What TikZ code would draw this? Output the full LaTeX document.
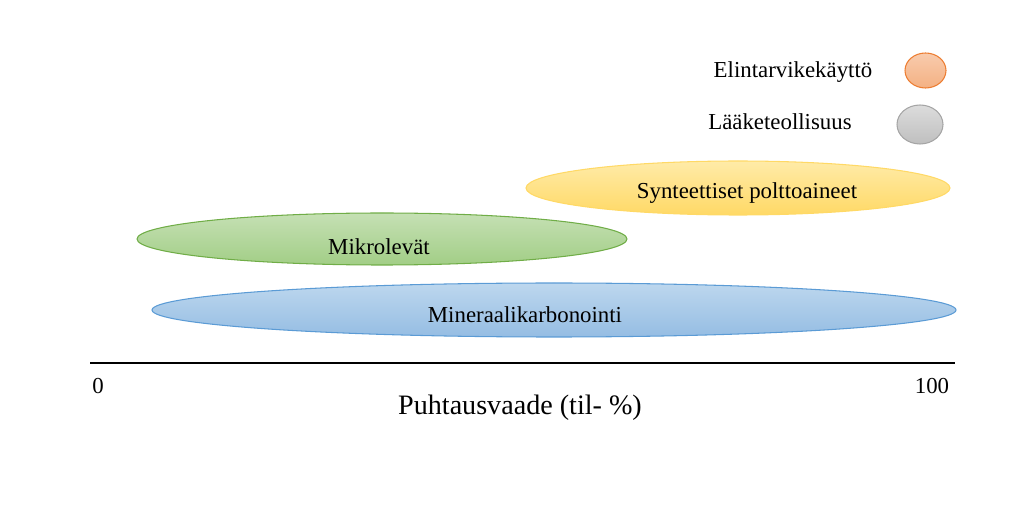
\documentclass[tikz,border=0pt]{standalone}
\usepackage{fontspec}
\setmainfont{Liberation Serif}
\usetikzlibrary{shapes.geometric}

\definecolor{orangetop}{HTML}{F8CBAD}
\definecolor{orangebot}{HTML}{F4B183}
\definecolor{orangeline}{HTML}{ED7D31}
\definecolor{graytop}{HTML}{DCDCDC}
\definecolor{graybot}{HTML}{BFBFBF}
\definecolor{grayline}{HTML}{A5A5A5}
\definecolor{yellowtop}{HTML}{FFEBA8}
\definecolor{yellowbot}{HTML}{FFD966}
\definecolor{greentop}{HTML}{C5E0B4}
\definecolor{greenbot}{HTML}{A2CE86}
\definecolor{greenline}{HTML}{70AD47}
\definecolor{bluetop}{HTML}{BDD7EE}
\definecolor{bluebot}{HTML}{95BDE3}
\definecolor{blueline}{HTML}{5B9BD5}

\begin{document}
\begin{tikzpicture}[
    blob/.style={ellipse, inner sep=0pt, line width=0.6pt},
    lbl/.style={font=\fontsize{13}{15}\selectfont, inner sep=1pt}
]
        \useasboundingbox (0,0) rectangle (20.48,10.24);

        % legend
        \node[blob, minimum width=0.82cm, minimum height=0.70cm, top color=orangetop, bottom color=orangebot, draw=orangeline] (food) at (18.51,8.83) {};
        \node[lbl] (foodtxt) at (15.86,8.80) {Elintarvikekäyttö};
        \node[blob, minimum width=0.92cm, minimum height=0.78cm, top color=graytop, bottom color=graybot, draw=grayline] (pharma) at (18.40,7.75) {};
        \node[lbl] (pharmatxt) at (15.60,7.80) {Lääketeollisuus};

        % ranges
        \node[blob, minimum width=8.48cm, minimum height=1.08cm, top color=yellowtop, bottom color=yellowbot, draw=yellowbot] (synt) at (14.76,6.48) {};
        \node[lbl] (synttxt) at (14.94,6.38) {Synteettiset polttoaineet};
        \node[blob, minimum width=9.80cm, minimum height=1.04cm, top color=greentop, bottom color=greenbot, draw=greenline] (algae) at (7.64,5.46) {};
        \node[lbl] (algaetxt) at (7.58,5.30) {Mikrolevät};
        \node[blob, minimum width=16.08cm, minimum height=1.08cm, top color=bluetop, bottom color=bluebot, draw=blueline] (mineral) at (11.08,4.04) {};
        \node[lbl] (mineraltxt) at (10.50,3.94) {Mineraalikarbonointi};

        % axis
        \coordinate (axstart) at (1.8,2.98);
        \coordinate (axend) at (19.1,2.98);
        \draw[line width=1.2pt, draw=black] (axstart) -- (axend);
        \node[lbl] (zero) at (1.96,2.52) {0};
        \node[lbl] (hundred) at (18.64,2.52) {100};
        \node[font=\fontsize{16}{19}\selectfont] (axtitle) at (10.40,2.08) {Puhtausvaade (til- \%)};
\end{tikzpicture}
\end{document}
